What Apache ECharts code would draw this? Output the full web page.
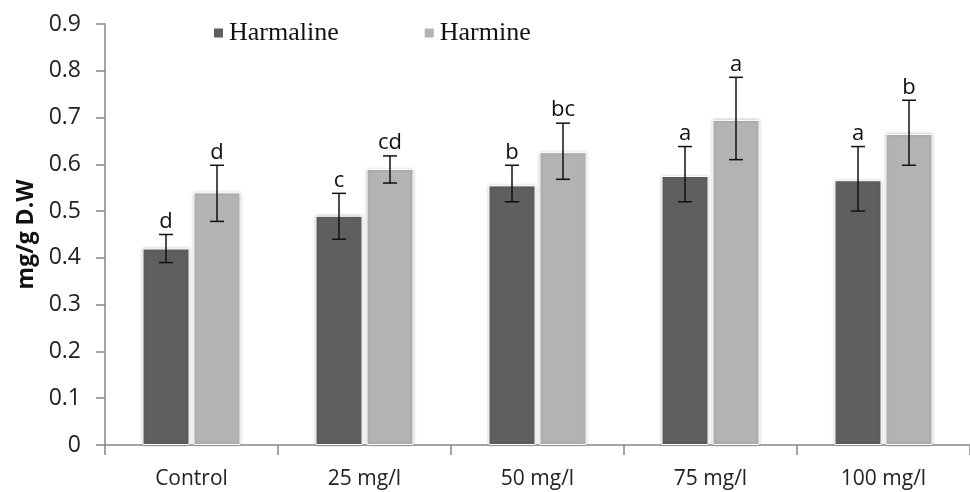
<!DOCTYPE html>
<html>
<head>
<meta charset="utf-8">
<script src="https://cdn.jsdelivr.net/npm/echarts@6/dist/echarts.min.js"></script>
<style>
  html, body { margin: 0; padding: 0; background: #fff; }
  #chart { width: 970px; height: 492px; }
</style>
</head>
<body>
<div id="chart"></div>
<script>
// categories and values
const categories = ['Control', '25 mg/l', '50 mg/l', '75 mg/l', '100 mg/l']
const harmaline = [0.42, 0.49, 0.555, 0.575, 0.566]
const harmine = [0.54, 0.59, 0.626, 0.695, 0.665]
// error bar ends
const harmalineLow = [0.39, 0.44, 0.52, 0.52, 0.50]
const harmalineHigh = [0.45, 0.538, 0.598, 0.638, 0.638]
const harmineLow = [0.478, 0.56, 0.568, 0.61, 0.598]
const harmineHigh = [0.598, 0.618, 0.688, 0.786, 0.737]
// significance letters
const harmalineLetters = ['d', 'c', 'b', 'a', 'a']
const harmineLetters = ['d', 'cd', 'bc', 'a', 'b']

const BAR_W = 47
const BAR_GAP = 4
const axisColor = '#868686'

const chart = echarts.init(document.getElementById('chart'))

// error bar + letter, shifted to sit on its bar
function errorSeries (name, low, high, letters, shift) {
  return {
    type: 'custom',
    name: name + '_err',
    z: 5,
    silent: true,
    data: categories.map((c, i) => [i, low[i], high[i]]),
    renderItem: function (params, api) {
      const top = api.coord([api.value(0), api.value(2)])
      const bot = api.coord([api.value(0), api.value(1)])
      const x = top[0] + shift
      const cap = 7
      const style = { stroke: '#111', lineWidth: 1.5 }
      return {
        type: 'group',
        children: [
          { type: 'line', shape: { x1: x, y1: top[1], x2: x, y2: bot[1] }, style },
          { type: 'line', shape: { x1: x - cap, y1: top[1], x2: x + cap, y2: top[1] }, style },
          { type: 'line', shape: { x1: x - cap, y1: bot[1], x2: x + cap, y2: bot[1] }, style },
          {
            type: 'text',
            style: {
              x: x,
              y: top[1] - 2,
              text: letters[params.dataIndex],
              textAlign: 'center',
              textVerticalAlign: 'bottom',
              fontFamily: 'Open Sans',
              fontSize: 22,
              fill: '#111'
            }
          }
        ]
      }
    }
  }
}

const barStyle = color => ({
  color: color,
  borderColor: '#fff',
  borderWidth: 1,
  shadowColor: 'rgba(0,0,0,0.25)',
  shadowBlur: 3
})

const option = {
  animation: false,
  grid: { left: 105, right: -8, top: 24, bottom: 47 },
  legend: {
    data: ['Harmaline', 'Harmine'],
    left: 207,
    top: 15,
    icon: 'rect',
    itemWidth: 11,
    itemHeight: 11,
    itemGap: 84,
    textStyle: { fontFamily: 'Liberation Serif', fontSize: 26, color: '#111' }
  },
  xAxis: {
    type: 'category',
    data: categories,
    axisLine: { lineStyle: { color: axisColor, width: 1.5 } },
    axisTick: { show: true, length: 10, lineStyle: { color: axisColor, width: 1.5 } },
    axisLabel: { margin: 24, fontFamily: 'Open Sans', fontSize: 21, color: '#222' }
  },
  yAxis: {
    type: 'value',
    min: 0,
    max: 0.9,
    interval: 0.1,
    name: 'mg/g D.W',
    nameLocation: 'middle',
    nameGap: 66,
    nameTextStyle: { fontFamily: 'Open Sans', fontWeight: 'bold', fontSize: 23, color: '#111' },
    axisLine: { show: true, lineStyle: { color: axisColor, width: 1.5 } },
    axisTick: { show: true, length: 9, lineStyle: { color: axisColor, width: 1.5 } },
    splitLine: { show: false },
    axisLabel: { margin: 24, fontFamily: 'Open Sans', fontSize: 23, color: '#222' }
  },
  series: [
    {
      name: 'Harmaline',
      type: 'bar',
      data: harmaline,
      barWidth: BAR_W,
      barGap: (BAR_GAP / BAR_W * 100) + '%',
      itemStyle: barStyle('#5f5f5f')
    },
    {
      name: 'Harmine',
      type: 'bar',
      data: harmine,
      barWidth: BAR_W,
      itemStyle: barStyle('#b3b3b3')
    },
    errorSeries('Harmaline', harmalineLow, harmalineHigh, harmalineLetters, -(BAR_W + BAR_GAP) / 2),
    errorSeries('Harmine', harmineLow, harmineHigh, harmineLetters, (BAR_W + BAR_GAP) / 2)
  ]
}

chart.setOption(option)
</script>
</body>
</html>
